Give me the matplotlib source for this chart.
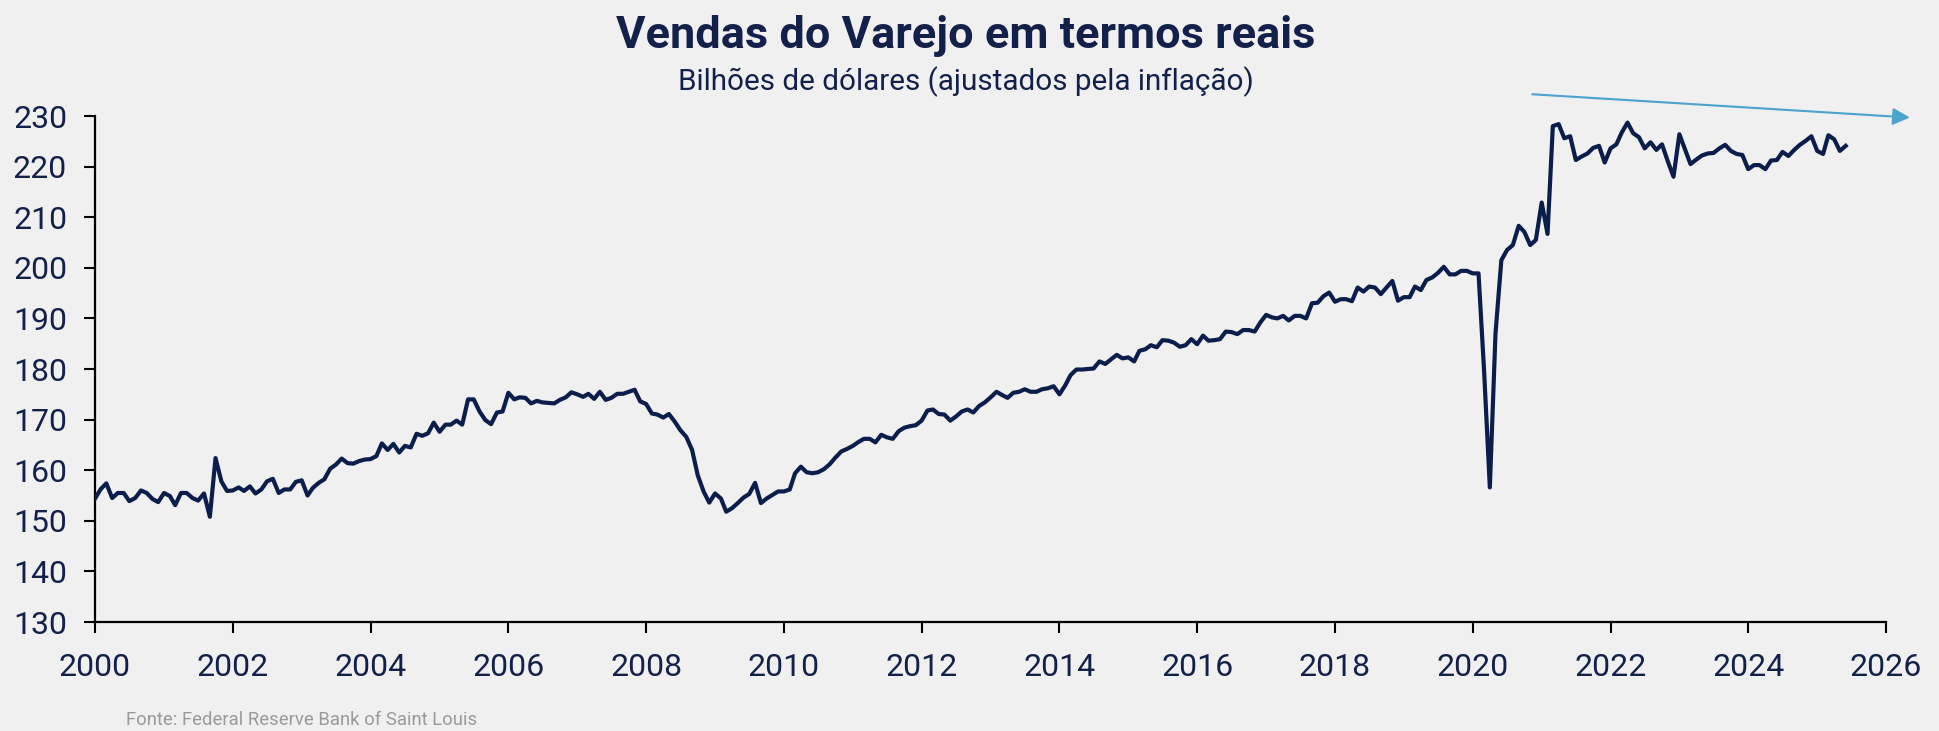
import matplotlib
matplotlib.use("Agg")
import matplotlib.pyplot as plt
import matplotlib.dates as mdates
import pandas as pd
import datetime as dt

# ---- data (monthly) ----
v2000 = [154.4, 156.3, 157.4, 154.5, 155.5, 155.5, 153.9, 154.5, 156.0, 155.5, 154.3, 153.7]
v2001 = [155.5, 154.9, 153.1, 155.5, 155.5, 154.5, 154.0, 155.4, 150.8, 162.4, 157.8, 155.9]
v2002 = [156.0, 156.6, 155.9, 156.8, 155.4, 156.2, 157.8, 158.3, 155.5, 156.2, 156.2, 157.7]
v2003 = [158.0, 155.0, 156.5, 157.5, 158.2, 160.3, 161.1, 162.3, 161.4, 161.3, 161.8, 162.1]
v2004 = [162.2, 162.8, 165.3, 164.0, 165.2, 163.5, 164.8, 164.5, 167.2, 166.8, 167.3, 169.4]
v2005 = [167.6, 169.0, 169.0, 169.8, 169.0, 174.0, 174.0, 171.6, 169.9, 169.1, 171.4, 171.6]
v2006 = [175.3, 174.0, 174.4, 174.3, 173.2, 173.7, 173.4, 173.3, 173.2, 173.9, 174.4, 175.4]
v2007 = [175.0, 174.5, 175.1, 174.1, 175.5, 173.9, 174.3, 175.1, 175.1, 175.5, 175.9, 173.6]
v2008 = [173.1, 171.2, 171.0, 170.4, 171.1, 169.6, 167.9, 166.6, 164.0, 159.0, 155.8, 153.6]
v2009 = [155.4, 154.4, 151.8, 152.5, 153.5, 154.6, 155.3, 157.5, 153.5, 154.4, 155.1, 155.8]
v2010 = [155.8, 156.2, 159.4, 160.7, 159.6, 159.4, 159.6, 160.2, 161.2, 162.5, 163.7, 164.2]
v2011 = [164.8, 165.6, 166.2, 166.2, 165.5, 167.0, 166.5, 166.2, 167.7, 168.4, 168.7, 168.9]
v2012 = [169.8, 171.8, 172.0, 171.1, 171.0, 169.8, 170.6, 171.6, 172.0, 171.4, 172.7, 173.4]
v2013 = [174.4, 175.5, 174.9, 174.3, 175.3, 175.5, 176.0, 175.5, 175.5, 176.0, 176.2, 176.6]
v2014 = [175.0, 176.8, 178.8, 179.9, 179.9, 180.0, 180.1, 181.5, 181.0, 181.9, 182.8, 182.1]
v2015 = [182.3, 181.5, 183.6, 183.9, 184.7, 184.3, 185.7, 185.6, 185.2, 184.4, 184.7, 185.9]
v2016 = [184.9, 186.6, 185.6, 185.7, 185.9, 187.4, 187.3, 186.9, 187.7, 187.7, 187.4, 189.2]
v2017 = [190.7, 190.2, 190.0, 190.5, 189.6, 190.5, 190.5, 190.0, 193.0, 193.1, 194.4, 195.1]
v2018 = [193.3, 193.8, 193.8, 193.4, 196.1, 195.3, 196.3, 196.1, 194.8, 196.1, 197.4, 193.5]
v2019 = [194.2, 194.2, 196.3, 195.6, 197.6, 198.1, 199.0, 200.2, 198.7, 198.7, 199.4, 199.4]
v2020 = [198.9, 198.9, 180.0, 156.6, 187.0, 201.5, 203.5, 204.5, 208.3, 207.1, 204.5, 205.5]
v2021 = [212.9, 206.7, 228.0, 228.4, 225.6, 226.0, 221.3, 222.0, 222.6, 223.7, 224.1, 220.8]
v2022 = [223.6, 224.4, 226.7, 228.7, 226.6, 225.8, 223.6, 224.8, 223.3, 224.4, 221.0, 218.0]
v2023 = [226.4, 223.3, 220.5, 221.4, 222.2, 222.6, 222.7, 223.6, 224.3, 223.1, 222.5, 222.3]
v2024 = [219.5, 220.3, 220.3, 219.5, 221.2, 221.3, 222.9, 222.1, 223.3, 224.3, 225.1, 226.0]
v2025 = [223.1, 222.5, 226.2, 225.4, 223.1, 224.1]

values = (v2000 + v2001 + v2002 + v2003 + v2004 + v2005 + v2006 + v2007 + v2008
          + v2009 + v2010 + v2011 + v2012 + v2013 + v2014 + v2015 + v2016 + v2017
          + v2018 + v2019 + v2020 + v2021 + v2022 + v2023 + v2024 + v2025)
dates = pd.date_range("2000-01-01", periods=len(values), freq="MS")

y_ticks = [130, 140, 150, 160, 170, 180, 190, 200, 210, 220, 230]
title = "Vendas do Varejo em termos reais"
subtitle = "Bilhões de dólares (ajustados pela inflação)"
source = "Fonte: Federal Reserve Bank of Saint Louis"

# ---- style ----
BG = "#F0F0F0"
NAVY = "#0B1E4B"
TXT = "#13204A"
ARROW = "#4BA3CE"
FONT = ["Roboto", "DejaVu Sans"]
plt.rcParams["font.family"] = FONT

fig = plt.figure(figsize=(19.39, 7.31), dpi=100, facecolor=BG)
ax = fig.add_axes([0.049, 0.1491, 0.9237, 0.6922], facecolor=BG)

ax.plot(dates, values, color=NAVY, lw=3.0, solid_joinstyle="round", zorder=3)

ax.set_xlim(dt.datetime(2000, 1, 1), dt.datetime(2026, 1, 1))
ax.set_ylim(130, 230)
ax.set_yticks(y_ticks)
ax.xaxis.set_major_locator(mdates.YearLocator(base=2))
ax.xaxis.set_major_formatter(mdates.DateFormatter("%Y"))

for s in ["top", "right"]:
    ax.spines[s].set_visible(False)
for s in ["left", "bottom"]:
    ax.spines[s].set_color("black")
    ax.spines[s].set_linewidth(1.6)

ax.tick_params(axis="both", direction="out", length=8, width=1.5, color="black",
               labelcolor=TXT, labelsize=23)
ax.tick_params(axis="y", pad=12)
ax.tick_params(axis="x", pad=14)

# arrow annotation
ax.annotate("", xy=(dt.datetime(2026, 5, 7), 229.7), xytext=(dt.datetime(2020, 11, 12), 234.3),
            xycoords="data", textcoords="data", annotation_clip=False,
            arrowprops=dict(arrowstyle="-|>,head_length=0.8,head_width=0.4",
                            mutation_scale=13, color=ARROW, lw=1.5, shrinkA=0, shrinkB=0))

fig.text(0.498, 0.951, title, ha="center", va="center", fontsize=32.5, fontweight="bold", color=TXT)
fig.text(0.498, 0.888, subtitle, ha="center", va="center", fontsize=21.3, color=TXT)
fig.text(0.065, 0.015, source, ha="left", va="center", fontsize=13.3, color="#9A9A9A")

fig.savefig("out.png", dpi=100, facecolor=BG)
